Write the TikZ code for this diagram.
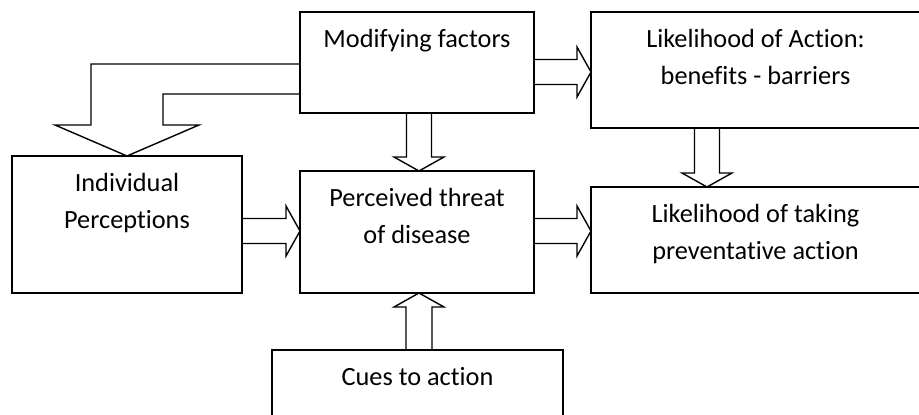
\documentclass[tikz,border=0pt]{standalone}
\usepackage{fontspec}
\setmainfont[Ligatures=NoCommon]{Carlito}
\usetikzlibrary{calc}

\begin{document}
\begin{tikzpicture}[
    x=1pt, y=-1pt,
    box/.style={rectangle, draw=black, line width=1.6pt, inner sep=0pt, outer sep=0pt, anchor=north west},
    txt/.style={anchor=north, inner sep=0pt, align=center, font=\fontsize{26.3}{36.5}\selectfont},
    blk/.style={draw=black, line width=1.4pt, line join=miter},
]
\useasboundingbox (0,0) rectangle (919,415);

% ============================================================ the six boxes
\node[box, minimum width=234pt, minimum height=101pt] (mod)  at (300, 12)  {};
\node[box, minimum width=329pt, minimum height=116pt] (act)  at (591, 12)  {};
\node[box, minimum width=230pt, minimum height=137pt] (ind)  at (12, 156)  {};
\node[box, minimum width=234pt, minimum height=122pt] (thr)  at (300, 171) {};
\node[box, minimum width=329pt, minimum height=106pt] (take) at (591, 187) {};
\node[box, minimum width=291pt, minimum height=70pt]  (cue)  at (272, 350) {};

% texts sit at the top of each box
\node[txt] (modt)  at ($(mod.north)+(0,10)$)  {\strut Modifying factors};
\node[txt] (actt)  at ($(act.north)+(0,10)$)  {\strut Likelihood of Action:\\ benefits - barriers};
\node[txt] (indt)  at ($(ind.north)+(0,10)$)  {\strut Individual\\ Perceptions};
\node[txt] (thrt)  at ($(thr.north)+(0,10)$)  {\strut Perceived threat\\ of disease};
\node[txt] (taket) at ($(take.north)+(0,10)$) {\strut Likelihood of taking\\ preventative action};
\node[txt] (cuet)  at ($(cue.north)+(0,10)$)  {\strut Cues to action};

% ============================================================ block arrows, left to right
\foreach \s/\e/\y in {mod/act/72, ind/thr/231, thr/take/231}{
    \coordinate (s) at (\s.east |- 0,\y);
    \coordinate (e) at (\e.west |- 0,\y);
    \draw[blk] ($(s)+(0,-12.5)$) -- ($(e)+(-14,-12.5)$) -- ($(e)+(-14,-25)$) -- (e)
        -- ($(e)+(-14,25)$) -- ($(e)+(-14,12.5)$) -- ($(s)+(0,12.5)$);
}

% downwards
\foreach \s/\e/\x in {mod/thr/419, act/take/707}{
    \coordinate (s) at (\s.south -| \x,0);
    \coordinate (e) at (\e.north -| \x,0);
    \draw[blk] ($(s)+(-12.5,0)$) -- ($(e)+(-12.5,-14)$) -- ($(e)+(-25,-14)$) -- (e)
        -- ($(e)+(25,-14)$) -- ($(e)+(12.5,-14)$) -- ($(s)+(12.5,0)$);
}

% upwards, from the cues
\coordinate (s) at (cue.north -| 419,0);
\coordinate (e) at (thr.south -| 419,0);
\draw[blk] ($(s)+(-13,0)$) -- ($(e)+(-13,14)$) -- ($(e)+(-25,14)$) -- (e)
    -- ($(e)+(25,14)$) -- ($(e)+(13,14)$) -- ($(s)+(13,0)$);

% the bent one, modifying factors round to the perceptions
\coordinate (bend) at (ind.north -| 127,0);
\draw[blk] (mod.west |- 0,64) -| ($(bend)+(-36,-31)$) -- ($(bend)+(-72,-31)$) -- (bend)
    -- ($(bend)+(72,-31)$) -- ($(bend)+(36,-31)$) |- (mod.west |- 0,94);

\end{tikzpicture}
\end{document}
